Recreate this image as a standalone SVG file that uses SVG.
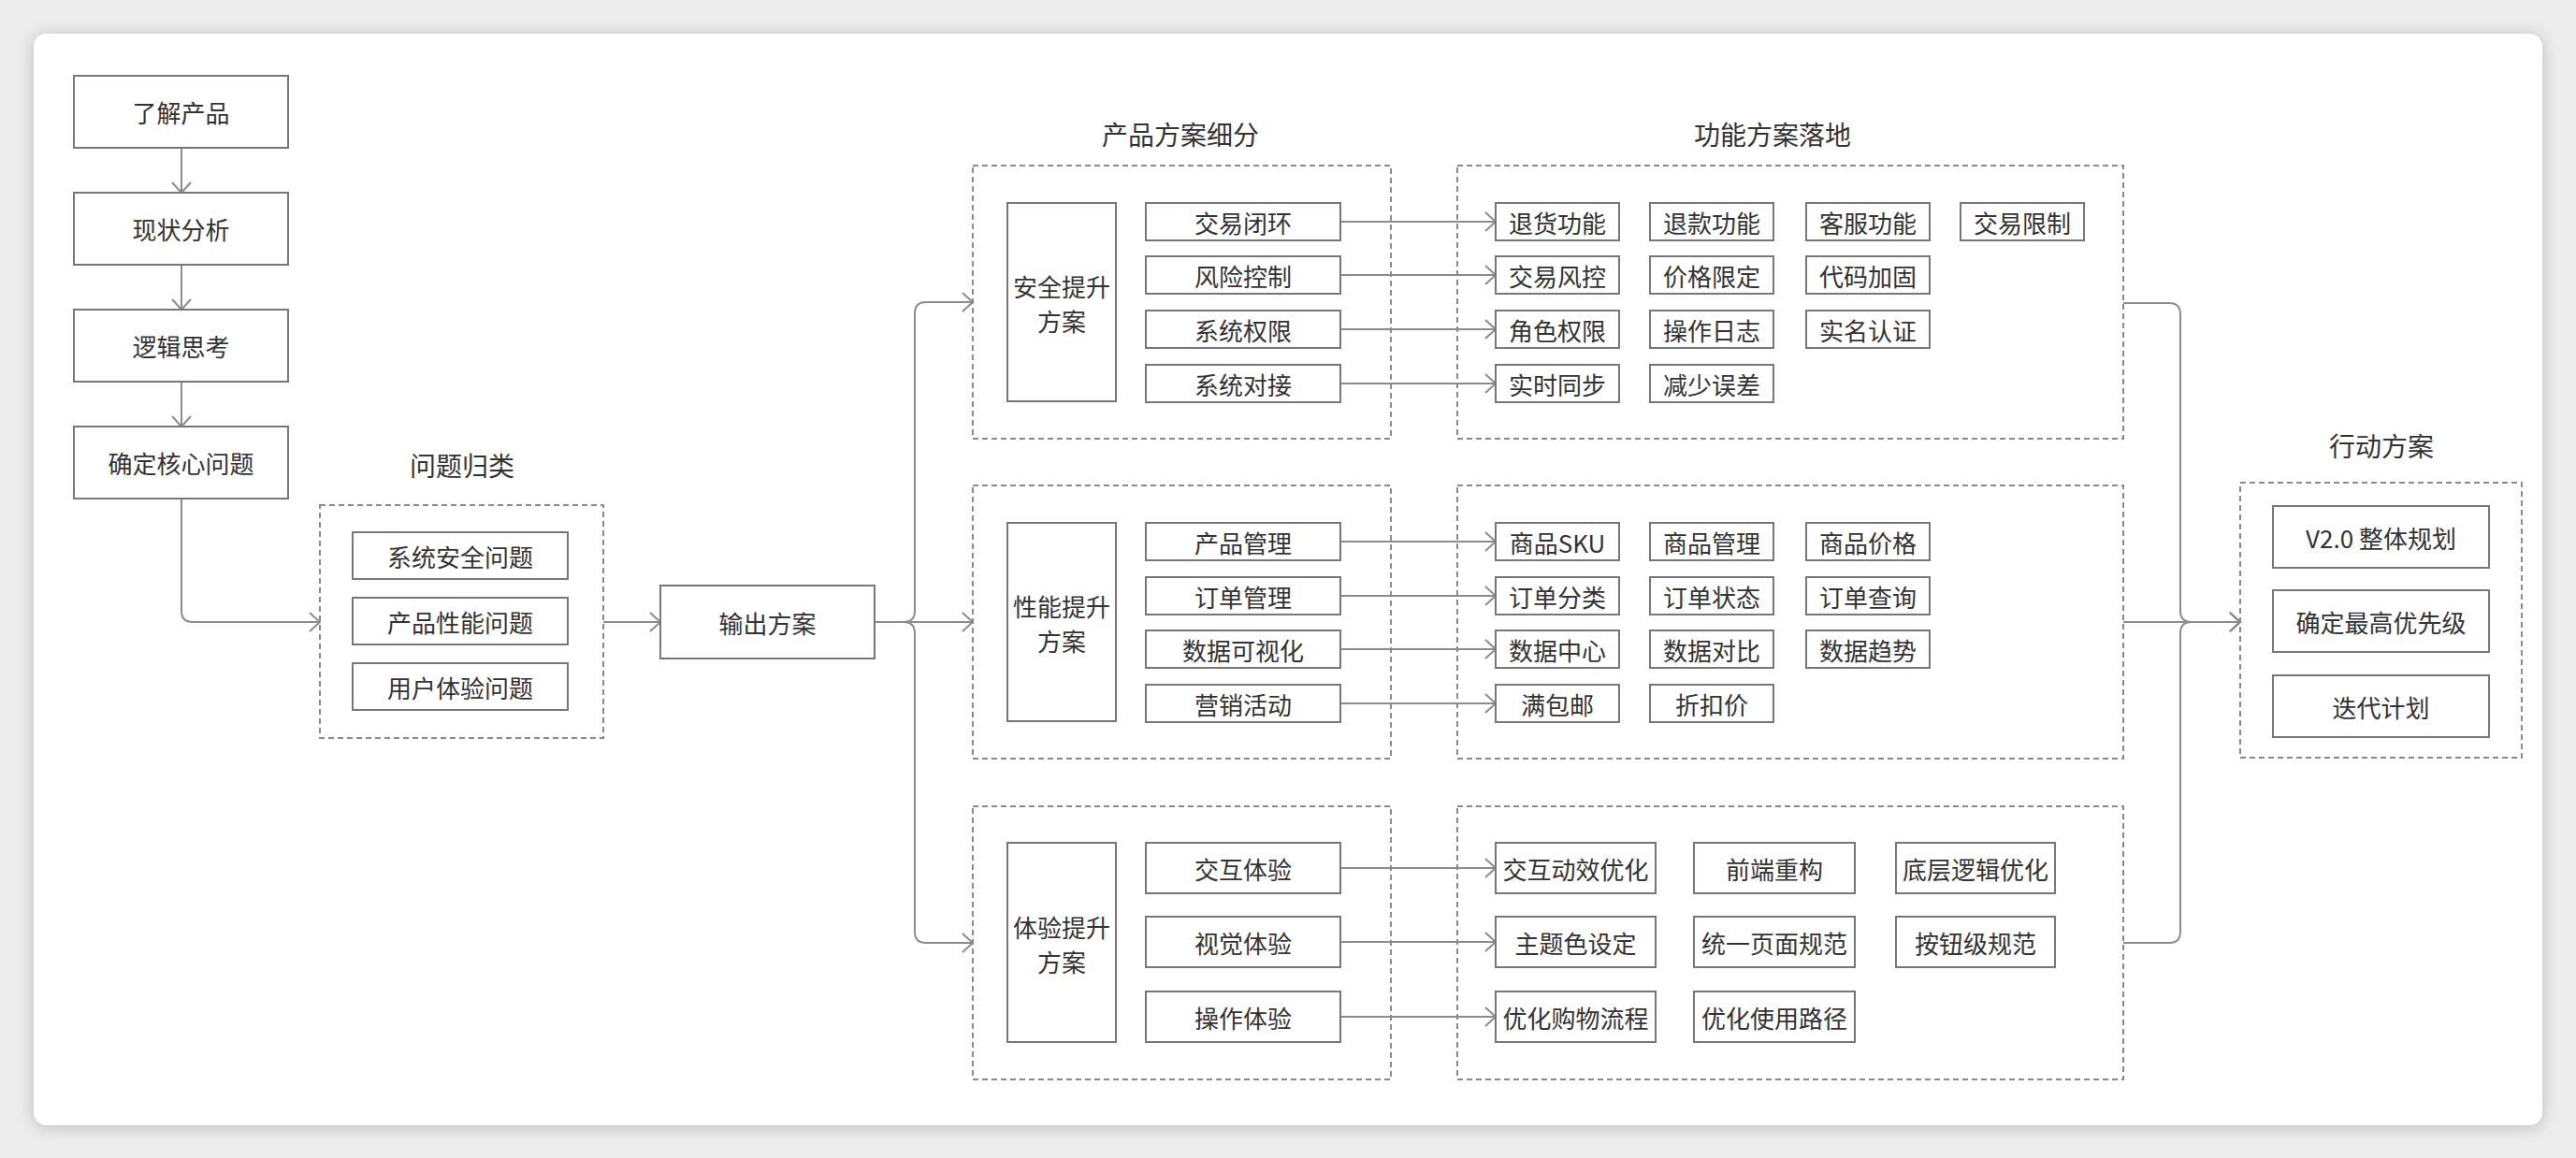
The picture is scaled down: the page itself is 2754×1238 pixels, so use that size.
<svg xmlns="http://www.w3.org/2000/svg" width="2754" height="1238" viewBox="0 0 2754 1238">
<style>
.box{fill:#fff;stroke:#777;stroke-width:2}
.dash{fill:none;stroke:#8a8a8a;stroke-width:2;stroke-dasharray:6 4}
.t{font-family:"Noto Sans CJK SC","Liberation Sans",sans-serif;font-size:26px;fill:#333;text-anchor:middle;dominant-baseline:central}
.title{font-family:"Noto Sans CJK SC","Liberation Sans",sans-serif;font-size:28px;fill:#333;text-anchor:middle;dominant-baseline:central}
.c{fill:none;stroke:#8c8c8c;stroke-width:2;marker-end:url(#arr)}
.cn{fill:none;stroke:#8c8c8c;stroke-width:2}
</style>
<defs>
<marker id="arr" markerUnits="userSpaceOnUse" markerWidth="16" markerHeight="24" refX="12" refY="11" orient="auto">
<path d="M1,1 L12,11 L1,21" fill="none" stroke="#8c8c8c" stroke-width="2"/>
</marker>
<filter id="sh" x="-5%" y="-5%" width="110%" height="110%">
<feDropShadow dx="0" dy="2" stdDeviation="9" flood-color="#000" flood-opacity="0.22"/>
</filter>
</defs>
<rect x="0" y="0" width="2754" height="1238" fill="#ededed"/>
<rect x="36" y="36" width="2682" height="1167" rx="14" fill="#fff" filter="url(#sh)"/>

<g id="connectors">
<path class="c" d="M194,158 V206"/>
<path class="c" d="M194,283 V331"/>
<path class="c" d="M194,408 V456"/>
<path class="c" d="M194,533 V653 Q194,665 206,665 H342"/>
<path class="c" d="M645,665 H706"/>
<path class="c" d="M935,665 H966 Q978,665 978,653 V335 Q978,323 990,323 H1040"/>
<path class="c" d="M935,665 H1040"/>
<path class="c" d="M935,665 H966 Q978,665 978,677 V996 Q978,1008 990,1008 H1040"/>
<path class="c" d="M1433,237 H1599"/>
<path class="c" d="M1433,294 H1599"/>
<path class="c" d="M1433,352 H1599"/>
<path class="c" d="M1433,410 H1599"/>
<path class="c" d="M1433,579 H1599"/>
<path class="c" d="M1433,637 H1599"/>
<path class="c" d="M1433,694 H1599"/>
<path class="c" d="M1433,752 H1599"/>
<path class="c" d="M1433,928 H1599"/>
<path class="c" d="M1433,1007 H1599"/>
<path class="c" d="M1433,1087 H1599"/>
<path class="c" d="M2270,324 H2319 Q2331,324 2331,336 V653 Q2331,665 2343,665 H2395"/>
<path class="c" d="M2270,665 H2395"/>
<path class="c" d="M2270,1008 H2319 Q2331,1008 2331,996 V677 Q2331,665 2343,665 H2395"/>
</g>

<g id="n-liaojie"><rect class="box" x="79" y="81" width="229" height="77"/><text class="t" x="193.5" y="119.5">了解产品</text></g>
<g id="n-xianzhuang"><rect class="box" x="79" y="206" width="229" height="77"/><text class="t" x="193.5" y="244.5">现状分析</text></g>
<g id="n-luoji"><rect class="box" x="79" y="331" width="229" height="77"/><text class="t" x="193.5" y="369.5">逻辑思考</text></g>
<g id="n-queding"><rect class="box" x="79" y="456" width="229" height="77"/><text class="t" x="193.5" y="494.5">确定核心问题</text></g>

<g id="g-wenti">
<text class="title" x="494" y="497">问题归类</text>
<rect class="dash" x="342" y="540" width="303" height="249"/>
<rect class="box" x="377" y="569" width="230" height="50"/><text class="t" x="492" y="594">系统安全问题</text>
<rect class="box" x="377" y="639" width="230" height="50"/><text class="t" x="492" y="664">产品性能问题</text>
<rect class="box" x="377" y="709" width="230" height="50"/><text class="t" x="492" y="734">用户体验问题</text>
</g>

<g id="n-shuchu"><rect class="box" x="706" y="626" width="229" height="78"/><text class="t" x="820.5" y="665">输出方案</text></g>

<g id="g-chanpin">
<text class="title" x="1262" y="143">产品方案细分</text>
<rect class="dash" x="1040" y="177" width="447" height="292"/>
<rect class="box" x="1077" y="217" width="116" height="212"/>
<text class="t" x="1135" y="305">安全提升</text><text class="t" x="1135" y="342">方案</text>
<rect class="box" x="1225" y="217" width="208" height="40"/><text class="t" x="1329" y="237">交易闭环</text>
<rect class="box" x="1225" y="274" width="208" height="40"/><text class="t" x="1329" y="294">风险控制</text>
<rect class="box" x="1225" y="332" width="208" height="40"/><text class="t" x="1329" y="352">系统权限</text>
<rect class="box" x="1225" y="390" width="208" height="40"/><text class="t" x="1329" y="410">系统对接</text>

<rect class="dash" x="1040" y="519" width="447" height="292"/>
<rect class="box" x="1077" y="559" width="116" height="212"/>
<text class="t" x="1135" y="647">性能提升</text><text class="t" x="1135" y="684">方案</text>
<rect class="box" x="1225" y="559" width="208" height="40"/><text class="t" x="1329" y="579">产品管理</text>
<rect class="box" x="1225" y="617" width="208" height="40"/><text class="t" x="1329" y="637">订单管理</text>
<rect class="box" x="1225" y="674" width="208" height="40"/><text class="t" x="1329" y="694">数据可视化</text>
<rect class="box" x="1225" y="732" width="208" height="40"/><text class="t" x="1329" y="752">营销活动</text>

<rect class="dash" x="1040" y="862" width="447" height="292"/>
<rect class="box" x="1077" y="901" width="116" height="213"/>
<text class="t" x="1135" y="990">体验提升</text><text class="t" x="1135" y="1027">方案</text>
<rect class="box" x="1225" y="901" width="208" height="54"/><text class="t" x="1329" y="928">交互体验</text>
<rect class="box" x="1225" y="980" width="208" height="54"/><text class="t" x="1329" y="1007">视觉体验</text>
<rect class="box" x="1225" y="1060" width="208" height="54"/><text class="t" x="1329" y="1087">操作体验</text>
</g>

<g id="g-gongneng">
<text class="title" x="1895" y="143">功能方案落地</text>
<rect class="dash" x="1558" y="177" width="712" height="292"/>
<rect class="box" x="1599" y="217" width="132" height="40"/><text class="t" x="1665" y="237">退货功能</text>
<rect class="box" x="1764" y="217" width="132" height="40"/><text class="t" x="1830" y="237">退款功能</text>
<rect class="box" x="1931" y="217" width="132" height="40"/><text class="t" x="1997" y="237">客服功能</text>
<rect class="box" x="2096" y="217" width="132" height="40"/><text class="t" x="2162" y="237">交易限制</text>
<rect class="box" x="1599" y="274" width="132" height="40"/><text class="t" x="1665" y="294">交易风控</text>
<rect class="box" x="1764" y="274" width="132" height="40"/><text class="t" x="1830" y="294">价格限定</text>
<rect class="box" x="1931" y="274" width="132" height="40"/><text class="t" x="1997" y="294">代码加固</text>
<rect class="box" x="1599" y="332" width="132" height="40"/><text class="t" x="1665" y="352">角色权限</text>
<rect class="box" x="1764" y="332" width="132" height="40"/><text class="t" x="1830" y="352">操作日志</text>
<rect class="box" x="1931" y="332" width="132" height="40"/><text class="t" x="1997" y="352">实名认证</text>
<rect class="box" x="1599" y="390" width="132" height="40"/><text class="t" x="1665" y="410">实时同步</text>
<rect class="box" x="1764" y="390" width="132" height="40"/><text class="t" x="1830" y="410">减少误差</text>

<rect class="dash" x="1558" y="519" width="712" height="292"/>
<rect class="box" x="1599" y="559" width="132" height="40"/><text class="t" x="1665" y="579">商品SKU</text>
<rect class="box" x="1764" y="559" width="132" height="40"/><text class="t" x="1830" y="579">商品管理</text>
<rect class="box" x="1931" y="559" width="132" height="40"/><text class="t" x="1997" y="579">商品价格</text>
<rect class="box" x="1599" y="617" width="132" height="40"/><text class="t" x="1665" y="637">订单分类</text>
<rect class="box" x="1764" y="617" width="132" height="40"/><text class="t" x="1830" y="637">订单状态</text>
<rect class="box" x="1931" y="617" width="132" height="40"/><text class="t" x="1997" y="637">订单查询</text>
<rect class="box" x="1599" y="674" width="132" height="40"/><text class="t" x="1665" y="694">数据中心</text>
<rect class="box" x="1764" y="674" width="132" height="40"/><text class="t" x="1830" y="694">数据对比</text>
<rect class="box" x="1931" y="674" width="132" height="40"/><text class="t" x="1997" y="694">数据趋势</text>
<rect class="box" x="1599" y="732" width="132" height="40"/><text class="t" x="1665" y="752">满包邮</text>
<rect class="box" x="1764" y="732" width="132" height="40"/><text class="t" x="1830" y="752">折扣价</text>

<rect class="dash" x="1558" y="862" width="712" height="292"/>
<rect class="box" x="1599" y="901" width="171" height="54"/><text class="t" x="1684.5" y="928">交互动效优化</text>
<rect class="box" x="1811" y="901" width="172" height="54"/><text class="t" x="1897" y="928">前端重构</text>
<rect class="box" x="2027" y="901" width="170" height="54"/><text class="t" x="2112" y="928">底层逻辑优化</text>
<rect class="box" x="1599" y="980" width="171" height="54"/><text class="t" x="1684.5" y="1007">主题色设定</text>
<rect class="box" x="1811" y="980" width="172" height="54"/><text class="t" x="1897" y="1007">统一页面规范</text>
<rect class="box" x="2027" y="980" width="170" height="54"/><text class="t" x="2112" y="1007">按钮级规范</text>
<rect class="box" x="1599" y="1060" width="171" height="54"/><text class="t" x="1684.5" y="1087">优化购物流程</text>
<rect class="box" x="1811" y="1060" width="172" height="54"/><text class="t" x="1897" y="1087">优化使用路径</text>
</g>

<g id="g-xingdong">
<text class="title" x="2546" y="476">行动方案</text>
<rect class="dash" x="2395" y="516" width="301" height="294"/>
<rect class="box" x="2430" y="541" width="231" height="66"/><text class="t" x="2545.5" y="574">V2.0 整体规划</text>
<rect class="box" x="2430" y="631" width="231" height="66"/><text class="t" x="2545.5" y="664">确定最高优先级</text>
<rect class="box" x="2430" y="722" width="231" height="66"/><text class="t" x="2545.5" y="755">迭代计划</text>
</g>
</svg>
